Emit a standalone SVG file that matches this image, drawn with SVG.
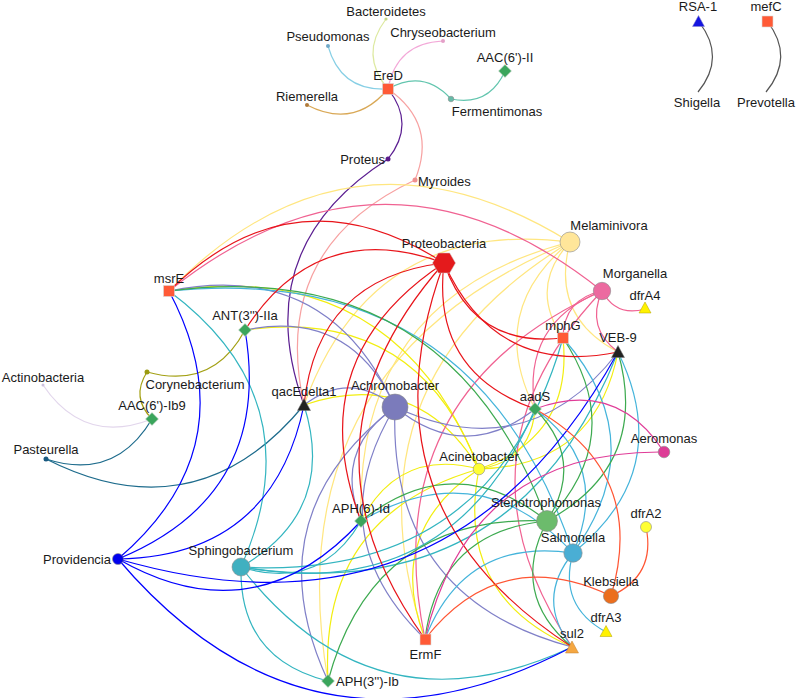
<svg xmlns="http://www.w3.org/2000/svg" width="796" height="698" viewBox="0 0 796 698">
<style>
text{font-family:"Liberation Sans",Arial,sans-serif;font-size:13px;fill:#1a1a1a;text-anchor:middle}
.s{text-anchor:start}.e{text-anchor:end}
#edges path{fill:none;stroke-width:1.2}
.pb{stroke:#E8141A}.mel{stroke:#FFE680}.mor{stroke:#F06292}.ach{stroke:#8080C8}.ste{stroke:#3DAA50}.sal{stroke:#45B4DB}.sph{stroke:#33B5C0}.aci{stroke:#F2EE10}.prv{stroke:#0000FF}.kle{stroke:#FF5533}.aer{stroke:#E03C98}
.sq{fill:#FF5A36;stroke:#d9d9d9;stroke-width:0.6}
.dm{fill:#3BA55C;stroke:#d9d9d9;stroke-width:0.6}
.nd{stroke:#8a8a8a;stroke-width:0.6}
</style>
<g id="edges">
<path d="M386 19 Q359 54.8 388 89" stroke="#DDE9A0"/>
<path d="M443 41 Q396.3 43 388 89" stroke="#F3A8D8"/>
<path d="M328 46 Q340.8 91.5 388 89" stroke="#87CFE5"/>
<path d="M307 105 Q353.9 129.4 388 89" stroke="#D9A856"/>
<path d="M451 99 Q423.5 68.8 388 89" stroke="#62C5AE"/>
<path d="M451 99 Q489.2 106.6 505 71" stroke="#62C5AE"/>
<path d="M388 159 Q416 124 388 89" stroke="#5B1E91"/>
<path d="M388 159 Q247.6 248.4 304 405" stroke="#5B1E91"/>
<path d="M415 180 Q437.9 123.7 388 89" stroke="#F7A1A1"/>
<path d="M415 180 Q269.5 248.1 304 405" stroke="#F7A1A1"/>
<path d="M698 92 Q726.5 57.4 699 22" stroke="#555"/>
<path d="M766 92 Q794.9 56.9 767 21" stroke="#555"/>
<path d="M43 385 Q83.9 445.6 152 419" stroke="#E2D6EC"/>
<path d="M147 372 Q212.8 390.2 245 330" stroke="#A3A014"/>
<path d="M147 372 Q130.7 397.5 152 419" stroke="#A3A014"/>
<path d="M46 459 Q115 481.4 152 419" stroke="#1D6B8C"/>
<path d="M46 459 Q196.6 535.2 304 405" stroke="#1D6B8C"/>
<path class="mel" d="M570 242 Q349.9 106.1 169 291"/>
<path class="mel" d="M570 242 Q371.8 217.1 304 405"/>
<path class="mel" d="M570 242 Q353.9 297.9 361 521"/>
<path class="mel" d="M570 242 Q273.4 364.7 328 681"/>
<path class="mel" d="M570 242 Q338.7 382.5 425 639"/>
<path class="mel" d="M570 242 Q528.1 287.2 563 338"/>
<path class="mel" d="M570 242 Q550 316.2 618 352"/>
<path class="mel" d="M570 242 Q485.7 311.5 535 409"/>
<path class="aci" d="M479 469 Q395.2 256 169 291"/>
<path class="aci" d="M479 469 Q417.6 305.9 245 330"/>
<path class="aci" d="M479 469 Q417.1 367 304 405"/>
<path class="aci" d="M479 469 Q399.2 447.8 361 521"/>
<path class="aci" d="M479 469 Q318.7 514.6 328 681"/>
<path class="aci" d="M479 469 Q384 532.4 425 639"/>
<path class="aci" d="M479 469 Q454.3 595.2 572 647"/>
<path class="aci" d="M479 469 Q573.4 437.1 563 338"/>
<path class="aci" d="M479 469 Q595.3 466.1 618 352"/>
<path class="aci" d="M479 469 Q531 461.4 535 409"/>
<path class="mor" d="M602 291 Q385.5 117.8 169 291"/>
<path class="mor" d="M602 291 Q563.7 298.9 563 338"/>
<path class="mor" d="M602 291 Q585.6 327.9 618 352"/>
<path class="mor" d="M602 291 Q616.3 317.2 645 309"/>
<path class="mor" d="M602 291 Q521.3 323.2 535 409"/>
<path class="mor" d="M602 291 Q374.3 394.2 425 639"/>
<path class="mor" d="M602 291 Q444.6 457 572 647"/>
<path class="ach" d="M395 407 Q328.4 258.6 169 291"/>
<path class="ach" d="M395 407 Q350.8 308.5 245 330"/>
<path class="ach" d="M395 407 Q350.3 369.6 304 405"/>
<path class="ach" d="M395 407 Q332.4 450.4 361 521"/>
<path class="ach" d="M395 407 Q251.9 517.2 328 681"/>
<path class="ach" d="M395 407 Q317.2 535 425 639"/>
<path class="ach" d="M395 407 Q387.5 597.8 572 647"/>
<path class="ach" d="M395 407 Q464.2 464 535 409"/>
<path class="ach" d="M395 407 Q528.5 468.7 618 352"/>
<path class="sph" d="M241 567 Q315.4 400.2 169 291"/>
<path class="sph" d="M241 567 Q337.3 511.2 304 405"/>
<path class="sph" d="M241 567 Q319.4 592 361 521"/>
<path class="sph" d="M241 567 Q238.9 658.8 328 681"/>
<path class="sph" d="M241 567 Q374.5 739.4 572 647"/>
<path class="sph" d="M241 567 Q515.5 610.3 618 352"/>
<path class="sph" d="M241 567 Q451.2 605.6 535 409"/>
<path class="sph" d="M241 567 Q493.6 581.3 563 338"/>
<path class="sal" d="M573 553 Q475.8 260.4 169 291"/>
<path class="sal" d="M573 553 Q464.6 536.8 425 639"/>
<path class="sal" d="M573 553 Q534.9 599.6 572 647"/>
<path class="sal" d="M573 553 Q654 441.5 563 338"/>
<path class="sal" d="M573 553 Q675.9 470.5 618 352"/>
<path class="sal" d="M573 553 Q611.6 465.8 535 409"/>
<path class="sal" d="M573 553 Q557.9 605.7 606 632"/>
<path class="sal" d="M573 553 Q479.8 452.2 361 521"/>
<path class="ste" d="M547 521 Q450 254.8 169 291"/>
<path class="ste" d="M547 521 Q454 446.6 361 521"/>
<path class="ste" d="M547 521 Q373.5 513.4 328 681"/>
<path class="ste" d="M547 521 Q438.8 531.2 425 639"/>
<path class="ste" d="M547 521 Q509.1 594 572 647"/>
<path class="ste" d="M547 521 Q628.2 435.9 563 338"/>
<path class="ste" d="M547 521 Q650.1 464.9 618 352"/>
<path class="ste" d="M547 521 Q585.8 460.2 535 409"/>
<path class="pb" d="M444 263 Q295.3 167 169 291"/>
<path class="pb" d="M444 263 Q317.7 216.9 245 330"/>
<path class="pb" d="M444 263 Q317.2 278 304 405"/>
<path class="pb" d="M444 263 Q299.3 358.8 361 521"/>
<path class="pb" d="M444 263 Q284.1 443.4 425 639"/>
<path class="pb" d="M444 263 Q354.4 506.2 572 647"/>
<path class="pb" d="M444 263 Q431.1 372.4 535 409"/>
<path class="pb" d="M444 263 Q473.5 348.1 563 338"/>
<path class="pb" d="M444 263 Q495.4 377.1 618 352"/>
<path class="prv" d="M118 559 Q250.7 445.4 169 291"/>
<path class="prv" d="M118 559 Q273.1 495.3 245 330"/>
<path class="prv" d="M118 559 Q272.6 556.4 304 405"/>
<path class="prv" d="M118 559 Q254.7 637.2 361 521"/>
<path class="prv" d="M118 559 Q450.8 655.5 618 352"/>
<path class="prv" d="M118 559 Q309.8 784.6 572 647"/>
<path class="kle" d="M611 596 Q500.8 543.1 425 639"/>
<path class="kle" d="M611 596 Q647.8 472.1 535 409"/>
<path class="kle" d="M611 596 Q656.1 575.5 646 527"/>
<path class="aer" d="M664 452 Q616.7 378.9 535 409"/>
<path class="aer" d="M664 452 Q469.7 449.9 425 639"/>
</g>
<g id="n-Bacteroidetes"><circle cx="386" cy="19" r="1.6" fill="#C9D98A"/><text x="386" y="15.5">Bacteroidetes</text></g>
<g id="n-Chryseobacterium"><circle cx="443" cy="41" r="2" fill="#E4A0C8"/><text x="443" y="36.5">Chryseobacterium</text></g>
<g id="n-Pseudomonas"><circle cx="328" cy="46" r="2" fill="#6FA8C8"/><text x="328" y="40.5">Pseudomonas</text></g>
<g id="n-AAC6II"><path class="dm" d="M505 64.5 L511.5 71 L505 77.5 L498.5 71 Z"/><text x="505" y="61.5">AAC(6')-II</text></g>
<g id="n-EreD"><rect class="sq" x="382.5" y="83.5" width="11" height="11"/><text x="388" y="79.5">EreD</text></g>
<g id="n-Riemerella"><circle cx="307" cy="105" r="2" fill="#B07A3A"/><text x="307" y="100.5">Riemerella</text></g>
<g id="n-Fermentimonas"><circle class="nd" cx="451" cy="99" r="2.8" fill="#66BBA8"/><text x="497" y="115.5">Fermentimonas</text></g>
<g id="n-Proteus"><circle cx="388" cy="159" r="2.5" fill="#5A1A8A"/><text class="e" x="385" y="164">Proteus</text></g>
<g id="n-Myroides"><circle cx="415" cy="180" r="2.5" fill="#F09090"/><text class="s" x="418" y="185.5">Myroides</text></g>
<g id="n-RSA1"><path d="M698.5 15.5 L704.5 26.5 L692.5 26.5 Z" fill="#1515E0" stroke="#8888cc" stroke-width="0.5"/><text x="698" y="10.5">RSA-1</text></g>
<g id="n-mefC"><rect class="sq" x="762" y="16" width="11" height="11"/><text x="766" y="10.5">mefC</text></g>
<g id="n-Shigella"><text x="697" y="106.5">Shigella</text></g>
<g id="n-Prevotella"><text x="766" y="106.5">Prevotella</text></g>
<g id="n-msrE"><rect class="sq" x="163.5" y="285.5" width="11" height="11"/><text x="169" y="282.5">msrE</text></g>
<g id="n-ANT3IIa"><path class="dm" d="M245 323.5 L251.5 330 L245 336.5 L238.5 330 Z"/><text x="245" y="319.5">ANT(3'')-IIa</text></g>
<g id="n-Corynebacterium"><circle cx="147" cy="372" r="2.5" fill="#9A9A10"/><text x="195" y="388.5">Corynebacterium</text></g>
<g id="n-Actinobacteria"><circle cx="43" cy="385" r="1.5" fill="#CCC0DD"/><text x="43" y="381.5">Actinobacteria</text></g>
<g id="n-AAC6Ib9"><path class="dm" d="M152 412.5 L158.5 419 L152 425.5 L145.5 419 Z"/><text x="152" y="409.5">AAC(6')-Ib9</text></g>
<g id="n-qacEdelta1"><path d="M304 398.5 L310.5 410.5 L297.5 410.5 Z" fill="#222" stroke="#777" stroke-width="0.5"/><text x="304" y="396">qacEdelta1</text></g>
<g id="n-Pasteurella"><circle cx="46" cy="459" r="2.5" fill="#1A5A80"/><text x="46" y="453.5">Pasteurella</text></g>
<g id="n-Providencia"><circle class="nd" cx="118" cy="559" r="5.5" fill="#0000EE"/><text class="e" x="111" y="563.5">Providencia</text></g>
<g id="n-Sphingobacterium"><circle class="nd" cx="241" cy="567" r="9" fill="#40B0C0"/><text x="241" y="554.5">Sphingobacterium</text></g>
<g id="n-APH3Ib"><path class="dm" d="M328 674.5 L334.5 681 L328 687.5 L321.5 681 Z"/><text class="s" x="336" y="685.5">APH(3'')-Ib</text></g>
<g id="n-APH6Id"><path class="dm" d="M361 514.5 L367.5 521 L361 527.5 L354.5 521 Z"/><text x="361" y="512.5">APH(6)-Id</text></g>
<g id="n-Achromobacter"><circle class="nd" cx="395" cy="407" r="13" fill="#7B7BBB"/><text x="395" y="389.5">Achromobacter</text></g>
<g id="n-Proteobacteria"><path d="M432.5 263 L438.3 253 L449.7 253 L455.5 263 L449.7 273 L438.3 273 Z" fill="#E41A1C" stroke="#c8c8c8" stroke-width="0.5"/><text x="444" y="247.5">Proteobacteria</text></g>
<g id="n-Melaminivora"><circle class="nd" cx="570" cy="242" r="10" fill="#FFE69A"/><text x="609" y="229.5">Melaminivora</text></g>
<g id="n-Morganella"><circle class="nd" cx="602" cy="291" r="8.7" fill="#EC6AA0"/><text x="635" y="277.5">Morganella</text></g>
<g id="n-dfrA4"><path d="M645 302 L651 313 L639 313 Z" fill="#FFF200" stroke="#b0a000" stroke-width="0.5"/><text x="645" y="299.5">dfrA4</text></g>
<g id="n-mphG"><rect class="sq" x="557.5" y="332.5" width="11" height="11"/><text x="563" y="329.5">mphG</text></g>
<g id="n-VEB9"><path d="M618 345.5 L624.5 357.5 L611.5 357.5 Z" fill="#222" stroke="#777" stroke-width="0.5"/><text x="618" y="341.5">VEB-9</text></g>
<g id="n-aadS"><path class="dm" d="M535 402.5 L541.5 409 L535 415.5 L528.5 409 Z"/><text x="535" y="400.5">aadS</text></g>
<g id="n-Aeromonas"><circle class="nd" cx="664" cy="452" r="5.8" fill="#DD3D96"/><text x="664" y="442.5">Aeromonas</text></g>
<g id="n-Acinetobacter"><circle class="nd" cx="479" cy="469" r="5.8" fill="#FFFF33"/><text x="479" y="460.5">Acinetobacter</text></g>
<g id="n-Stenotrophomonas"><circle class="nd" cx="547" cy="521" r="10.5" fill="#6CBB6C"/><text x="546" y="506.5">Stenotrophomonas</text></g>
<g id="n-Salmonella"><circle class="nd" cx="573" cy="553" r="9.2" fill="#4AAED4"/><text x="573" y="541.5">Salmonella</text></g>
<g id="n-dfrA2"><circle class="nd" cx="646" cy="527" r="5.5" fill="#FFFF33"/><text x="646" y="517.5">dfrA2</text></g>
<g id="n-Klebsiella"><circle class="nd" cx="611" cy="596" r="7.6" fill="#EB6E1E"/><text x="611" y="585.5">Klebsiella</text></g>
<g id="n-dfrA3"><path d="M606 625.5 L612 636.5 L600 636.5 Z" fill="#FFF200" stroke="#b0a000" stroke-width="0.5"/><text x="606" y="621.5">dfrA3</text></g>
<g id="n-sul2"><path d="M572 641 L578.5 653 L565.5 653 Z" fill="#F5A742" stroke="#c08030" stroke-width="0.5"/><text x="572" y="637.5">sul2</text></g>
<g id="n-ErmF"><rect class="sq" x="420" y="634" width="11" height="11"/><text x="425.5" y="658.5">ErmF</text></g>
</svg>
